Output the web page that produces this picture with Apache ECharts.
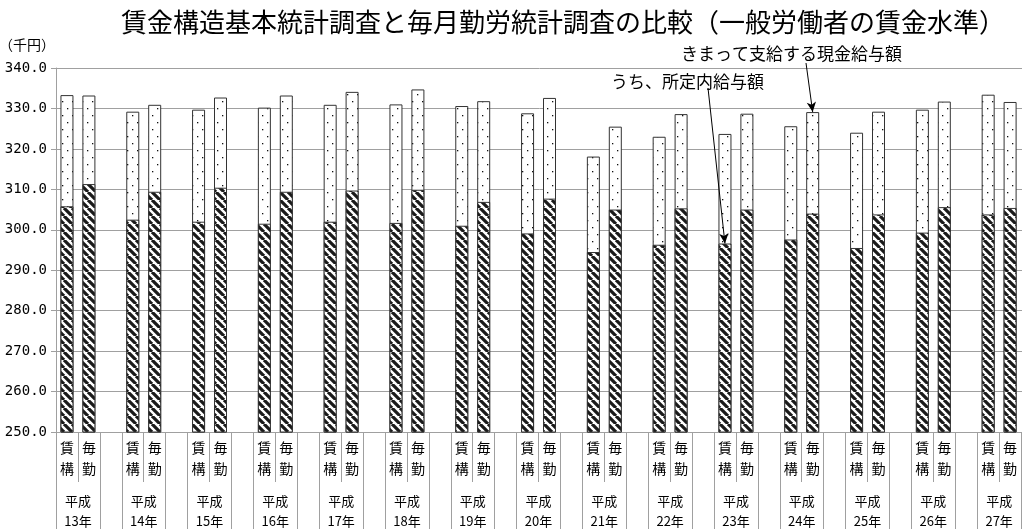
<!DOCTYPE html>
<html>
<head>
<meta charset="utf-8">
<script src="https://cdn.jsdelivr.net/npm/echarts@6/dist/echarts.min.js"></script>
<style>
  html, body { margin: 0; padding: 0; background: #fff; }
  #chart { width: 1022px; height: 529px; }
</style>
</head>
<body>
<div id="chart"></div>
<script>
// 平成13年〜27年、一般労働者の賃金水準（千円）
const years = ['13', '14', '15', '16', '17', '18', '19', '20', '21', '22', '23', '24', '25', '26', '27'];
const surveyLabels = ['賃\n構', '毎\n勤'];

// 賃金構造基本統計調査（賃構）
const chinkoTotal = [333.3, 329.2, 329.7, 330.2, 330.9, 331.0, 330.6, 328.8, 318.1, 323.0, 323.7, 325.6, 324.0, 329.7, 333.4];
const chinkoBase  = [305.8, 302.5, 302.0, 301.5, 302.0, 301.7, 301.0, 299.1, 294.5, 296.3, 296.6, 297.6, 295.5, 299.3, 303.8];

// 毎月勤労統計調査（毎勤）
const maikinTotal = [333.2, 330.9, 332.7, 333.2, 334.1, 334.7, 331.8, 332.6, 325.5, 328.6, 328.7, 329.1, 329.2, 331.7, 331.6];
const maikinBase  = [311.3, 309.4, 310.4, 309.4, 309.7, 309.9, 306.9, 307.7, 305.0, 305.3, 305.0, 304.0, 303.8, 305.6, 305.4];

const yMin = 250, yMax = 340, yStep = 10;

const totalName = 'きまって支給する現金給与額';
const baseName = 'うち、所定内給与額';

// each year takes three slots: 賃構, 毎勤 and a gap
const slotNames = [];
const totalData = [];
const baseData = [];
years.forEach((y, i) => {
  slotNames.push(surveyLabels[0], surveyLabels[1], '');
  totalData.push(chinkoTotal[i], maikinTotal[i], null);
  baseData.push(chinkoBase[i], maikinBase[i], null);
});

// slot boundaries (one more than slots); year captions sit between 賃構 and 毎勤
const boundaryNames = [];
for (let i = 0; i <= slotNames.length; i++) {
  boundaryNames.push(i % 3 === 1 ? '平成\n' + years[(i - 1) / 3] + '年' : '');
}

const font = '"Noto Sans CJK JP", "Noto Sans", sans-serif';
const monoFont = '"DejaVu Sans Mono", monospace';
const gray = '#a0a0a0';

function makeHatch() {
  const c = document.createElement('canvas');
  c.width = 8; c.height = 8;
  const g = c.getContext('2d');
  g.fillStyle = '#fff';
  g.fillRect(0, 0, 8, 8);
  g.strokeStyle = '#1a1a1a';
  g.lineWidth = 3.2;
  g.beginPath();
  [-8, 0, 8].forEach(o => { g.moveTo(o, 0); g.lineTo(o + 8, 8); });
  g.stroke();
  return c;
}

function makeDots() {
  const c = document.createElement('canvas');
  c.width = 10; c.height = 14;
  const g = c.getContext('2d');
  g.fillStyle = '#fff';
  g.fillRect(0, 0, 10, 14);
  g.fillStyle = '#111';
  g.fillRect(2, 3, 1.3, 1.3);
  g.fillRect(7, 10, 1.3, 1.3);
  return c;
}

const chart = echarts.init(document.getElementById('chart'), null, { renderer: 'canvas' });

// index of a bar slot: year index * 3 + (0 = 賃構, 1 = 毎勤)
const slotOf = (yearIdx, survey) => yearIdx * 3 + survey;

chart.setOption({
  animation: false,
  textStyle: { fontFamily: font, color: '#000' },
  title: {
    text: '賃金構造基本統計調査と毎月勤労統計調査の比較（一般労働者の賃金水準）',
    left: 116, top: 4,
    textStyle: { fontFamily: font, fontSize: 26, fontWeight: 'normal', color: '#000' }
  },
  // the last gap slot runs past the right edge of the canvas
  grid: { left: 56, top: 68, width: 987, height: 364, containLabel: false, outerBoundsMode: 'none' },
  xAxis: [
    {
      type: 'category', position: 'bottom', data: slotNames,
      axisLine: { show: true, onZero: false, lineStyle: { color: gray, width: 1 } },
      axisTick: { show: false },
      axisLabel: { interval: 0, margin: 5, fontSize: 14, lineHeight: 21, color: '#000', fontFamily: font }
    },
    {
      type: 'category', position: 'bottom', boundaryGap: false, data: boundaryNames,
      axisLine: { show: false, onZero: false },
      axisTick: { show: true, length: 100, interval: (i) => i % 3 !== 1, lineStyle: { color: gray, width: 1 } },
      axisLabel: { interval: 0, margin: 59, fontSize: 13, lineHeight: 20, color: '#000', fontFamily: font }
    },
    {
      type: 'category', position: 'bottom', boundaryGap: false, data: boundaryNames,
      axisLine: { show: false, onZero: false },
      axisTick: { show: true, length: 50, interval: (i) => i % 3 === 1, lineStyle: { color: gray, width: 1 } },
      axisLabel: { show: false }
    }
  ],
  yAxis: {
    type: 'value', min: yMin, max: yMax, interval: yStep,
    name: '（千円）', nameLocation: 'end', nameGap: 16,
    nameTextStyle: { fontSize: 14, align: 'right', color: '#000', fontFamily: font, padding: [0, 1, 0, 0] },
    axisLine: { show: true, lineStyle: { color: gray, width: 1 } },
    axisTick: { show: true, length: 5, lineStyle: { color: gray } },
    axisLabel: { margin: 9, fontSize: 14, color: '#000', fontFamily: monoFont, formatter: v => v.toFixed(1) },
    splitLine: { show: true, lineStyle: { color: gray, width: 1 } }
  },
  series: [
    {
      name: totalName, type: 'bar', xAxisIndex: 0, data: totalData,
      barWidth: 13, clip: true,
      itemStyle: { color: { image: makeDots(), repeat: 'repeat' }, borderColor: '#333', borderWidth: 1 },
      markLine: {
        silent: true, symbol: ['none', 'arrow'], symbolSize: [7, 10],
        label: { show: false },
        lineStyle: { color: '#000', width: 1, type: 'solid' },
        data: [[{ x: 806, y: 63 }, { coord: [slotOf(11, 1), maikinTotal[11]] }]]
      }
    },
    {
      name: baseName, type: 'bar', xAxisIndex: 0, data: baseData,
      barWidth: 13, barGap: '-100%', clip: true,
      itemStyle: { color: { image: makeHatch(), repeat: 'repeat' }, borderColor: '#333', borderWidth: 1 },
      markLine: {
        silent: true, symbol: ['none', 'arrow'], symbolSize: [7, 10],
        label: { show: false },
        lineStyle: { color: '#000', width: 1, type: 'solid' },
        data: [[{ x: 708, y: 88 }, { coord: [slotOf(10, 0), chinkoBase[10]] }]]
      }
    }
  ],
  graphic: [
    { type: 'text', left: 681, top: 45, style: { text: totalName, font: '17px ' + font, fill: '#000' } },
    { type: 'text', left: 611, top: 73, style: { text: baseName, font: '17px ' + font, fill: '#000' } }
  ]
});
</script>
</body>
</html>
